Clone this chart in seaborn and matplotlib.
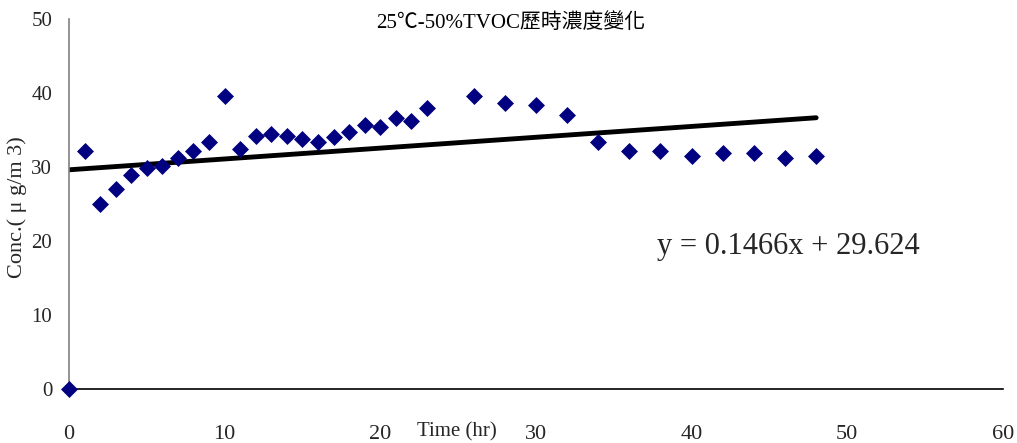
import numpy as np
import pandas as pd
import matplotlib
matplotlib.use("Agg")
import matplotlib.pyplot as plt
import seaborn as sns

# data
hours = [0, 1, 2, 3, 4, 5, 6, 7, 8, 9, 10, 11, 12, 13, 14, 15, 16, 17, 18, 19,
         20, 21, 22, 23, 26, 28, 30, 32, 34, 36, 38, 40, 42, 44, 46, 48]
conc = [0.0, 32.2, 25.0, 27.0, 28.9, 29.9, 30.1, 31.2, 32.2, 33.4, 39.6, 32.4,
        34.2, 34.5, 34.2, 33.8, 33.4, 34.1, 34.7, 35.7, 35.4, 36.6, 36.2, 38.0,
        39.6, 38.6, 38.4, 37.0, 33.4, 32.2, 32.2, 31.5, 31.9, 31.9, 31.2, 31.5]
slope = 0.1466
intercept = 29.624
fit_x = [0, 48]

df = pd.DataFrame({"hr": hours, "conc": conc})
fit = pd.DataFrame({"hr": fit_x, "conc": [intercept + slope * x for x in fit_x]})

sns.set_style("white")
plt.rcParams['font.family'] = ['Liberation Serif', 'Noto Sans CJK TC']

fig = plt.figure(figsize=(10.17, 4.43), dpi=100)
ax = fig.add_axes([0.0678, 0.1219, 0.9184, 0.8351])

sns.lineplot(data=fit, x="hr", y="conc", ax=ax, color="black", linewidth=3.5, zorder=2)
sns.scatterplot(data=df, x="hr", y="conc", ax=ax, marker="D", s=75,
                color="#000080", edgecolor="#000080", linewidth=0, zorder=3, clip_on=False)

ax.set_xlim(0, 60)
ax.set_ylim(0, 50)
ax.set_xticks(range(0, 61, 10))
ax.set_yticks(range(0, 51, 10))
ax.tick_params(axis="x", direction="in", length=7, width=1, color="black",
               labelsize=16, pad=26)
ax.tick_params(axis="y", direction="in", length=5, width=1, color="#808080",
               labelsize=15, pad=12)
for side in ["top", "right"]:
    ax.spines[side].set_visible(False)
ax.spines["left"].set_color("#808080")
ax.spines["bottom"].set_color("black")
ax.spines["left"].set_linewidth(1.2)
ax.spines["bottom"].set_linewidth(1.2)
ax.set_xlabel("")
ax.set_ylabel("")

fig.text(0.502, 0.948, "25℃-50%TVOC歷時濃度變化", ha="center", va="center", fontsize=15, color="black")
fig.text(0.017, 0.532, "Conc.( μ g/m 3)", rotation=90, ha="center", va="center", fontsize=16)
fig.text(0.449, 0.026, "Time (hr)", ha="center", va="center", fontsize=15)
ax.text(37.8, 19.2, "y = 0.1466x + 29.624", ha="left", va="center", fontsize=22)

fig.savefig("out.png", dpi=100)
